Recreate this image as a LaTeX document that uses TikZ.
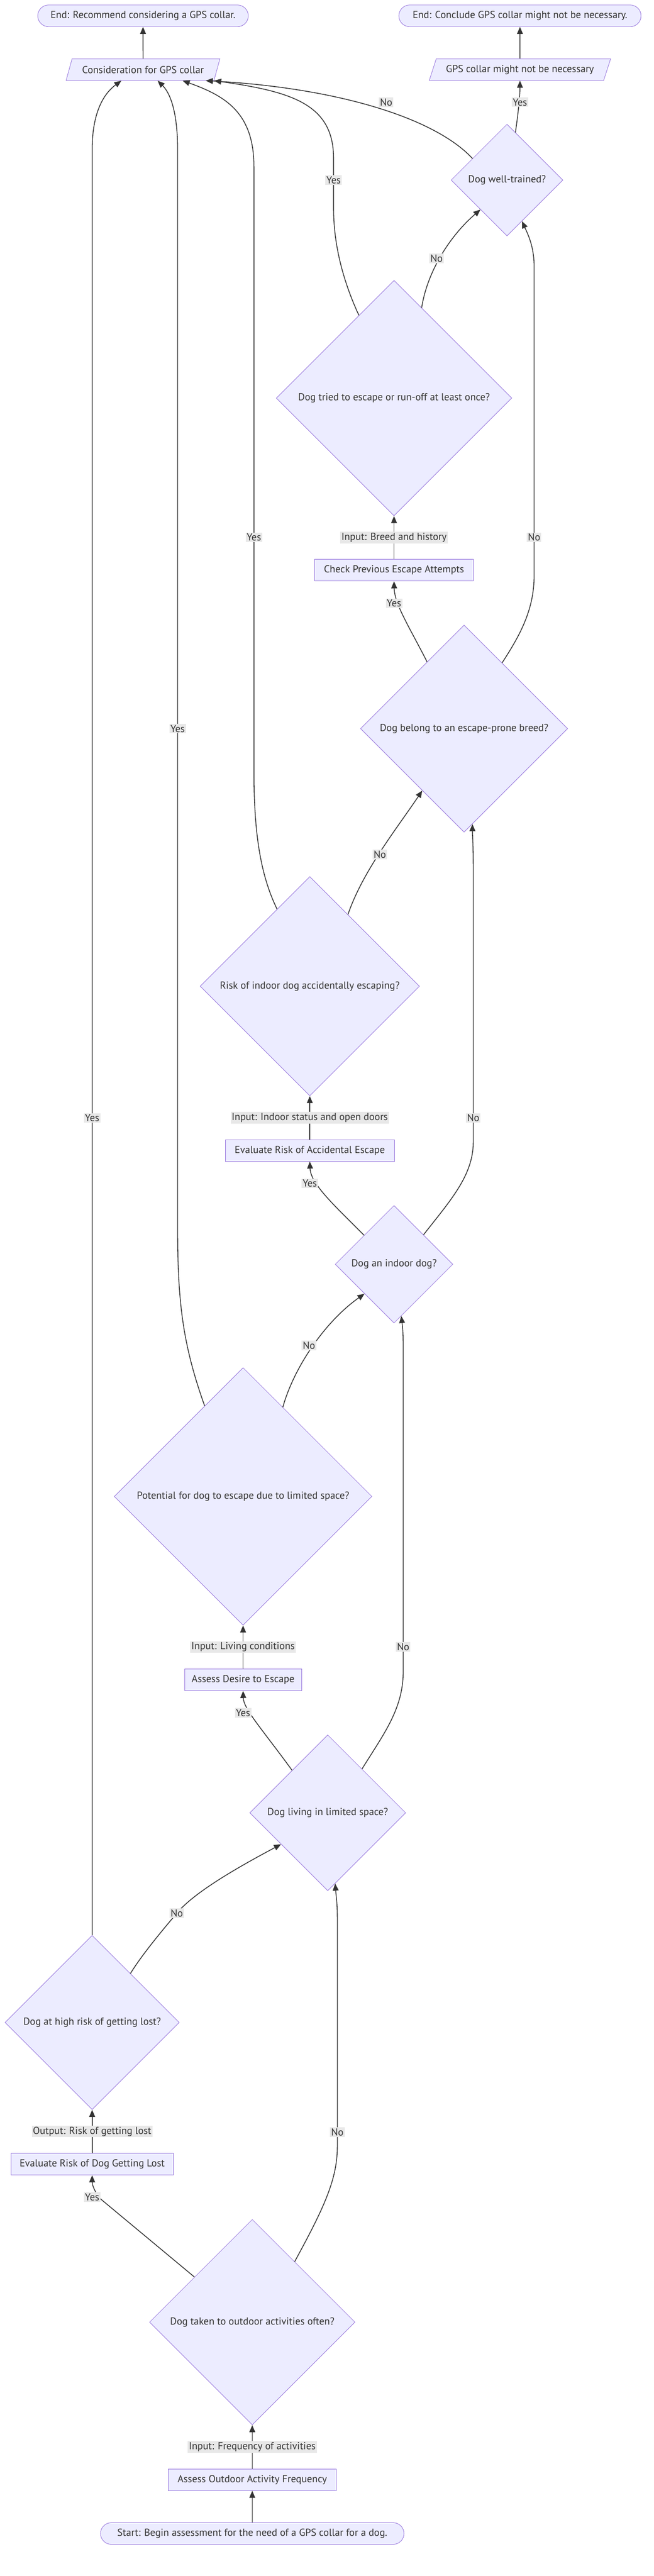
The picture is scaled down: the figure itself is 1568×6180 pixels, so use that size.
\documentclass[tikz,border=0pt]{standalone}
\usepackage{fontspec}
\setmainfont{PT Sans}
\usepackage{tikz}
\usetikzlibrary{shapes.geometric, arrows.meta}
\usepackage{xcolor}
\definecolor{fundo}{HTML}{ECECFF}
\definecolor{roxo}{HTML}{9370DB}
\definecolor{cinza}{HTML}{333333}
\definecolor{rotulo}{HTML}{E8E8E8}

\begin{document}
\begin{tikzpicture}[x=0.02cm, y=-0.02cm,
    font=\fontsize{13.9}{16}\selectfont, text=cinza,
    base/.style={draw=roxo, fill=fundo, line width=0.6pt},
    terminal/.style={base, rounded corners=0.52cm, minimum height=1.04cm, inner xsep=6pt},
    processo/.style={base, rectangle, minimum height=1.04cm},
    entrada/.style={base, trapezium, trapezium left angle=64, trapezium right angle=116,
        trapezium stretches body, minimum height=1.04cm},
    decisao/.style={base, diamond, aspect=1, inner sep=0pt, minimum size=#1},
    seta/.style={draw=cinza, line width=1.1pt, -{Triangle[length=0.34cm, width=0.28cm]}},
    rot/.style={fill=rotulo, inner sep=1.5pt}]
    \useasboundingbox (0,0) rectangle (1568,6180);

    % Nós
    \node[terminal, minimum width=10.1cm] (fimSim) at (343,38) {End: Recommend considering a GPS collar.};
    \node[terminal, minimum width=11.62cm] (fimNao) at (1247,38) {End: Conclude GPS collar might not be necessary.};
    \node[entrada, minimum width=7.38cm] (considerar) at (343,167) {Consideration for GPS collar};
    \node[entrada, minimum width=8.7cm] (naoPrecisa) at (1247,167) {GPS collar might not be necessary};
    \node[decisao=5.36cm] (treinado) at (1216,432) {Dog well-trained?};
    \node[decisao=11.3cm] (tentou) at (945,955) {Dog tried to escape or run-off at least once?};
    \node[processo, minimum width=7.6cm] (checar) at (945,1368) {Check Previous Escape Attempts};
    \node[decisao=9.94cm] (raca) at (1113,1748) {Dog belong to an escape-prone breed?};
    \node[decisao=10.52cm] (acidente) at (743,2366) {Risk of indoor dog accidentally escaping?};
    \node[processo, minimum width=8.12cm] (avaliarFuga) at (743,2760) {Evaluate Risk of Accidental Escape};
    \node[decisao=5.64cm] (interno) at (945,3033) {Dog an indoor dog?};
    \node[decisao=12.36cm] (potencial) at (583,3590) {Potential for dog to escape due to limited space?};
    \node[processo, minimum width=5.6cm] (desejo) at (583,4030) {Assess Desire to Escape};
    \node[decisao=7.48cm] (espaco) at (786,4349) {Dog living in limited space?};
    \node[decisao=8.36cm] (perdido) at (221,4852) {Dog at high risk of getting lost?};
    \node[processo, minimum width=7.8cm] (avaliarPerda) at (221,5192) {Evaluate Risk of Dog Getting Lost};
    \node[decisao=9.86cm] (passeio) at (605,5571) {Dog taken to outdoor activities often?};
    \node[processo, minimum width=8.04cm] (frequencia) at (605,5949) {Assess Outdoor Activity Frequency};
    \node[terminal, minimum width=14.56cm] (inicio) at (605,6078) {Start: Begin assessment for the need of a GPS collar for a dog.};

    % Setas
    \draw[seta] (inicio) -- (frequencia);
    \draw[seta] (frequencia) -- node[rot]{Input: Frequency of activities} (passeio);
    \draw[seta] (passeio.142) -- (236,5271) .. controls (224,5250) and (221,5240) .. (avaliarPerda.south) node[rot, at={(221,5271)}]{Yes};
    \draw[seta] (passeio.55) .. controls (775,5300) and (809,5230) .. (809,5150) -- (809,4600) .. controls (809,4565) and (806,4548) .. (espaco.-84) node[rot, at={(809,5115)}]{No};
    \draw[seta] (avaliarPerda) -- node[rot]{Output: Risk of getting lost} (perdido);
    \draw[seta] (perdido.52) .. controls (340,4690) and (390,4630) .. (424,4590) .. controls (465,4540) and (570,4480) .. (espaco.214) node[rot, at={(424,4590)}]{No};
    \draw[seta] (perdido.north) -- (221,360) .. controls (221,260) and (255,220) .. (291,0 |- considerar.south) node[rot, at={(221,2682)}]{Yes};
    \draw[seta] (espaco.130) .. controls (630,4150) and (584,4100) .. (desejo.south) node[rot, at={(583,4109)}]{Yes};
    \draw[seta] (espaco.52) .. controls (920,4160) and (967,4100) .. (967,4010) -- (967,3230) .. controls (967,3195) and (965,3180) .. (interno.-82) node[rot, at={(967,3951)}]{No};
    \draw[seta] (desejo) -- node[rot]{Input: Living conditions} (potencial);
    \draw[seta] (potencial.66) .. controls (705,3280) and (780,3170) .. (interno.225) node[rot, at={(741,3228)}]{No};
    \draw[seta] (potencial.113) .. controls (440,3230) and (426,3130) .. (426,2950) -- (426,360) .. controls (426,260) and (405,220) .. (378,0 |- considerar.south) node[rot, at={(426,1748)}]{Yes};
    \draw[seta] (interno.136) .. controls (800,2890) and (745,2840) .. (avaliarFuga.south) node[rot, at={(743,2839)}]{Yes};
    \draw[seta] (interno.45) .. controls (1080,2880) and (1135,2820) .. (1135,2740) -- (1135,2080) .. controls (1135,2030) and (1133,2000) .. (raca.-85) node[rot, at={(1135,2682)}]{No};
    \draw[seta] (avaliarFuga) -- node[rot]{Input: Indoor status and open doors} (acidente);
    \draw[seta] (acidente.62) .. controls (870,2090) and (950,1990) .. (raca.236) node[rot, at={(911,2050)}]{No};
    \draw[seta] (acidente.113) .. controls (625,2100) and (609,2000) .. (609,1850) -- (609,400) .. controls (609,270) and (540,230) .. (438,0 |- considerar.south) node[rot, at={(609,1289)}]{Yes};
    \draw[seta] (raca.119) .. controls (985,1510) and (946,1450) .. (checar.south) node[rot, at={(945,1447)}]{Yes};
    \draw[seta] (raca.60) .. controls (1250,1520) and (1281,1460) .. (1281,1380) -- (1281,640) .. controls (1281,590) and (1265,560) .. (treinado.-70) node[rot, at={(1281,1289)}]{No};
    \draw[seta] (checar) -- node[rot]{Input: Breed and history} (tentou);
    \draw[seta] (tentou.73) .. controls (1025,650) and (1080,565) .. (treinado.228) node[rot, at={(1047,620)}]{No};
    \draw[seta] (tentou.113) .. controls (830,690) and (800,600) .. (800,500) -- (800,380) .. controls (800,250) and (700,220) .. (considerar.bottom right corner) node[rot, at={(800,432)}]{Yes};
    \draw[seta] (treinado.148) .. controls (1040,280) and (800,210) .. (considerar.-10) node[rot, at={(926,245)}]{No};
    \draw[seta] (treinado.80) .. controls (1243,270) and (1247,230) .. (naoPrecisa.south) node[rot, at={(1247,245)}]{Yes};
    \draw[seta] (considerar) -- (fimSim);
    \draw[seta] (naoPrecisa) -- (fimNao);
\end{tikzpicture}
\end{document}
